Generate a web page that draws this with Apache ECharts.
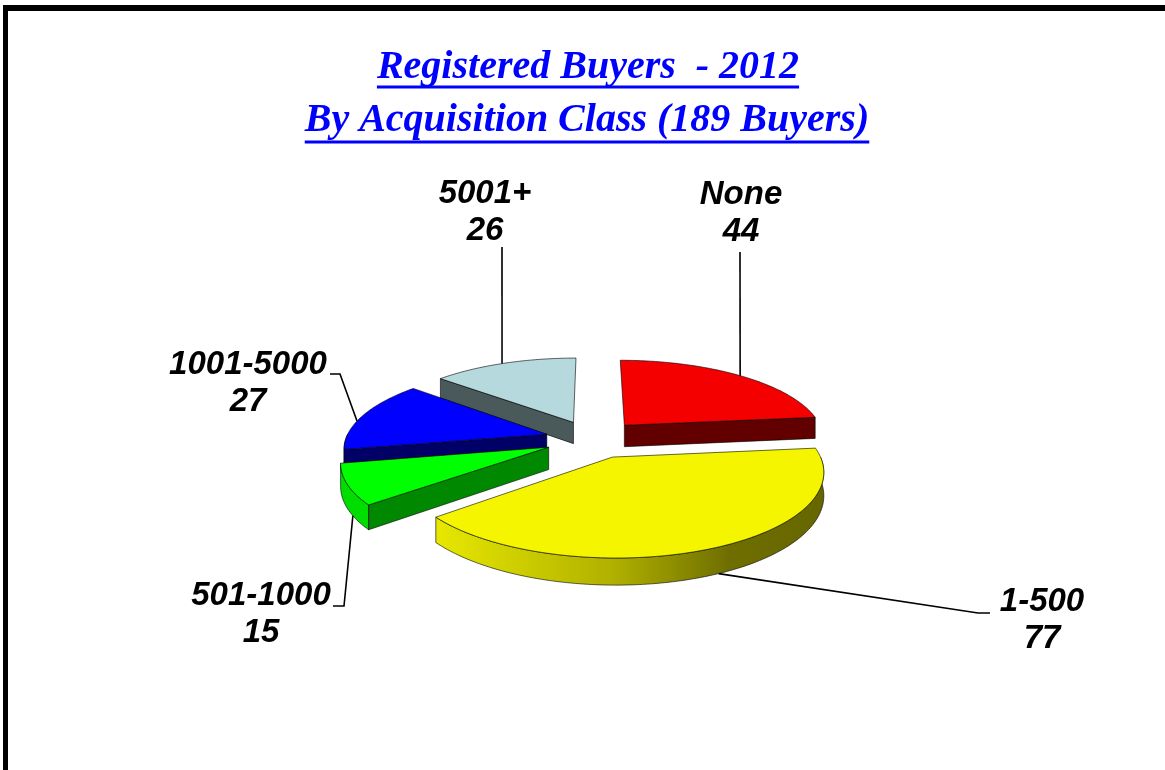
<!DOCTYPE html>
<html><head><meta charset="utf-8">
<script src="https://cdn.jsdelivr.net/npm/echarts@6/dist/echarts.min.js"></script>
<style>html,body{margin:0;padding:0;background:#fff}#c{width:1165px;height:770px}</style>
</head><body><div id="c"></div>
<script>
// ---- data ----
const categories = ['None', '1-500', '501-1000', '1001-5000', '5001+'];
const values = [44, 77, 15, 27, 26];
const titleLines = ['Registered Buyers  - 2012', 'By Acquisition Class (189 Buyers)'];

// ---- styles / layout ----
const topColors = ['#F40000', '#F5F500', '#00FF00', '#0000FF', '#B6D9DD'];
const wallColors = ['#620000', '#6A6A00', '#008800', '#000066', '#4A5A5A'];
const outerColors = ['#A00000',
  {type:'linear', x:440, y:0, x2:826, y2:0, global:true,
   colorStops:[{offset:0,color:'#E6E600'},{offset:0.45,color:'#B0B000'},{offset:0.75,color:'#6E6E00'},{offset:1,color:'#666600'}]},
  '#00DD00', '#0000CC', '#8FB0B4'];
const G = {cx:593, cy:439, A:201, B:79, p:0.155, D:22, explode:0.24, start:-90};
const labelLayout = [
  {x:741, y:213, path:[[740,252]], anchorT:-47.5, bottom:false},
  {x:1042, y:620, path:[[990,613],[978,613]], anchorT:65, bottom:true},
  {x:261, y:614, path:[[333,606],[344,606]], anchorT:150, bottom:true},
  {x:248, y:383, path:[[330,374],[340,374]], anchorT:190, bottom:false},
  {x:485, y:212, path:[[502,247]], anchorT:244.5, bottom:false}
];
const LABEL_FONT = 'italic bold 33px "Liberation Sans", Arial, sans-serif';
const TITLE_FONT = 'italic bold 40px "Liberation Serif", "Times New Roman", serif';

const rad = d => d * Math.PI / 180;
function proj(u, v, h) {
  const k = 1 / (1 - G.p * v);
  return [G.cx + G.A * u * k, G.cy + G.B * v * k + h * G.D * k];
}

const total = values.reduce((a, b) => a + b, 0);
const spans = [];
(function(){
  let a = G.start;
  values.forEach(v => { const s = a, e = a + v / total * 360; spans.push([s, e]); a = e; });
})();
const ranks = (function(){
  const order = spans.map((sp, i) => ({i, d: Math.sin(rad((sp[0] + sp[1]) / 2))}))
    .sort((x, y) => x.d - y.d);
  const r = []; order.forEach((o, k) => r[o.i] = k); return r;
})();

function arcPts(ou, ov, a, b, h) {
  const pts = []; const n = Math.max(2, Math.ceil(Math.abs(b - a)));
  for (let j = 0; j <= n; j++) {
    const t = rad(a + (b - a) * j / n);
    pts.push(proj(ou + Math.cos(t), ov + Math.sin(t), h));
  }
  return pts;
}

function renderItem(params, api) {
  const i = params.dataIndex;
  const [s, e] = spans[i];
  const m = rad((s + e) / 2);
  const ou = G.explode * Math.cos(m), ov = G.explode * Math.sin(m);
  const base = ranks[i] * 10;
  const stroke = {stroke:'rgba(0,0,0,0.75)', lineWidth:0.8, lineJoin:'round'};
  const children = [];
  // outer wall (front-facing part)
  [[-360,-180],[0,180],[360,540]].forEach(([lo, hi]) => {
    const a = Math.max(s, lo), b = Math.min(e, hi);
    if (b > a) {
      const top = arcPts(ou, ov, a, b, 0), bot = arcPts(ou, ov, a, b, 1).reverse();
      children.push({type:'polygon', z2: base + 1, shape:{points: top.concat(bot)},
        style: Object.assign({fill: outerColors[i]}, stroke)});
    }
  });
  // radial walls
  [[s, -90], [e, 90]].forEach(([t, off]) => {
    if (Math.sin(rad(t + off)) > 0.02) {
      const tr = rad(t);
      const pts = [proj(ou, ov, 0), proj(ou + Math.cos(tr), ov + Math.sin(tr), 0),
                   proj(ou + Math.cos(tr), ov + Math.sin(tr), 1), proj(ou, ov, 1)];
      children.push({type:'polygon', z2: base + 1, shape:{points: pts},
        style: Object.assign({fill: wallColors[i]}, stroke)});
    }
  });
  // top face
  const topPts = [proj(ou, ov, 0)].concat(arcPts(ou, ov, s, e, 0));
  children.push({type:'polygon', z2: base + 2, shape:{points: topPts},
    style: Object.assign({fill: topColors[i]}, stroke)});
  // leader + label
  const L = labelLayout[i];
  const at = rad(L.anchorT);
  const anchor = proj(ou + Math.cos(at), ov + Math.sin(at), L.bottom ? 1 : 0);
  children.push({type:'polyline', z2: 100, shape:{points: L.path.concat([anchor])},
    style:{stroke:'#000', lineWidth:1.6, fill:null}});
  children.push({type:'text', z2: 101, x: L.x, y: L.y,
    style:{text: api.value(2) + '\n' + api.value(1), font: LABEL_FONT, fill:'#000',
      align:'center', verticalAlign:'middle', textAlign:'center', textVerticalAlign:'middle', lineHeight:37}});
  return {type:'group', children};
}

// title measurement for underline
const cvs = document.createElement('canvas').getContext('2d');
cvs.font = TITLE_FONT;
const titleCenters = [[588, 68], [587, 121]];
const underlineY = [87, 142];
const graphics = [
  {type:'rect', shape:{x:3, y:5, width:1162, height:6}, style:{fill:'#000'}},
  {type:'rect', shape:{x:3, y:5, width:5, height:765}, style:{fill:'#000'}}
];
titleLines.forEach((t, k) => {
  const w = cvs.measureText(t).width;
  const [cx, cy] = titleCenters[k];
  graphics.push({type:'text', x: cx, y: cy, style:{text: t, font: TITLE_FONT, fill:'#0000FF',
    align:'center', verticalAlign:'middle', textAlign:'center', textVerticalAlign:'middle'}});
  graphics.push({type:'rect', shape:{x: cx - w / 2, y: underlineY[k] - 1.5, width: w, height: 3}, style:{fill:'#0000FF'}});
});

const chart = echarts.init(document.getElementById('c'), null, {renderer:'canvas'});
chart.setOption({
  animation: false,
  backgroundColor: '#fff',
  graphic: graphics,
  series: [{
    type: 'custom', coordinateSystem: 'none', silent: true,
    data: values.map((v, i) => [i, v, categories[i]]),
    dimensions: ['idx', 'value', 'name'],
    renderItem
  }]
});
</script>
</body></html>
